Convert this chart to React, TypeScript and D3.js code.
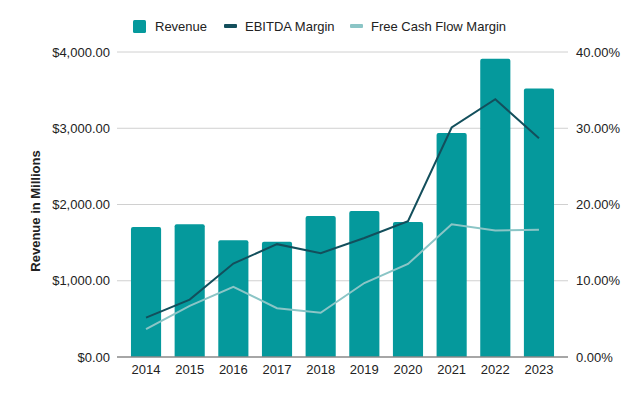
import {useEffect, useRef} from "react"

import * as d3 from "d3"

const years = ["2014", "2015", "2016", "2017", "2018", "2019", "2020", "2021", "2022", "2023"]
const revenue = [1705, 1740, 1530, 1513, 1849, 1915, 1770, 2938, 3913, 3520]
const ebitdaMargin = [0.0517, 0.0753, 0.1225, 0.148, 0.136, 0.156, 0.178, 0.301, 0.338, 0.287]
const fcfMargin = [0.0367, 0.067, 0.092, 0.064, 0.058, 0.097, 0.122, 0.174, 0.166, 0.167]
const revenueTicks = [0, 1000, 2000, 3000, 4000]
const marginTicks = [0, 0.1, 0.2, 0.3, 0.4]

const colors = {bar: "#05999c", ebitda: "#134f5c", fcf: "#8bc5c6"}
const font = "'Liberation Sans', Arial, sans-serif"

const width = 640
const height = 396
const plot = {left: 117, right: 568, top: 52, bottom: 357}

const App = (): JSX.Element => {
  const ref = useRef<SVGSVGElement>(null)

  useEffect(() => {
    const svg = d3.select(ref.current)
    svg.selectAll("*").remove()

    const x = d3
      .scaleBand()
      .domain(years)
      .range([plot.left, plot.right])
      .paddingInner(0.31)
      .paddingOuter(0.32)
    const yRev = d3.scaleLinear().domain([0, 4000]).range([plot.bottom, plot.top])
    const yPct = d3.scaleLinear().domain([0, 0.4]).range([plot.bottom, plot.top])

    // gridlines
    svg
      .append("g")
      .selectAll("line")
      .data(revenueTicks.slice(1))
      .join("line")
      .attr("x1", plot.left)
      .attr("x2", plot.right)
      .attr("y1", (d) => yRev(d))
      .attr("y2", (d) => yRev(d))
      .attr("stroke", "#d0d0d0")
      .attr("stroke-width", 1)

    // bars with slightly rounded tops
    const r = 2
    svg
      .append("g")
      .selectAll("path")
      .data(revenue)
      .join("path")
      .attr("fill", colors.bar)
      .attr("d", (d, i) => {
        const x0 = x(years[i])!
        const x1 = x0 + x.bandwidth()
        const y0 = yRev(d)
        const yb = yRev(0)
        return `M${x0},${yb}V${y0 + r}Q${x0},${y0} ${x0 + r},${y0}H${x1 - r}Q${x1},${y0} ${x1},${y0 + r}V${yb}Z`
      })

    // baseline
    svg
      .append("line")
      .attr("x1", plot.left)
      .attr("x2", plot.right)
      .attr("y1", yRev(0))
      .attr("y2", yRev(0))
      .attr("stroke", "#888")
      .attr("stroke-width", 1.3)

    const line = d3
      .line<number>()
      .x((_, i) => x(years[i])! + x.bandwidth() / 2)
      .y((d) => yPct(d))

    svg
      .append("path")
      .datum(fcfMargin)
      .attr("d", line)
      .attr("fill", "none")
      .attr("stroke", colors.fcf)
      .attr("stroke-width", 2)

    svg
      .append("path")
      .datum(ebitdaMargin)
      .attr("d", line)
      .attr("fill", "none")
      .attr("stroke", colors.ebitda)
      .attr("stroke-width", 2)

    // left axis labels
    svg
      .append("g")
      .selectAll("text")
      .data(revenueTicks)
      .join("text")
      .attr("x", 110)
      .attr("y", (d) => yRev(d))
      .attr("dy", "0.35em")
      .attr("text-anchor", "end")
      .attr("font-family", font)
      .attr("font-size", 13)
      .attr("fill", "#222")
      .text((d) => "$" + d3.format(",.2f")(d))

    // right axis labels
    svg
      .append("g")
      .selectAll("text")
      .data(marginTicks)
      .join("text")
      .attr("x", 576)
      .attr("y", (d) => yPct(d))
      .attr("dy", "0.35em")
      .attr("font-family", font)
      .attr("font-size", 13)
      .attr("fill", "#222")
      .text((d) => d3.format(".2%")(d))

    // x labels
    svg
      .append("g")
      .selectAll("text")
      .data(years)
      .join("text")
      .attr("x", (d) => x(d)! + x.bandwidth() / 2)
      .attr("y", 374)
      .attr("text-anchor", "middle")
      .attr("font-family", font)
      .attr("font-size", 13)
      .attr("fill", "#222")
      .text((d) => d)

    // y axis title
    svg
      .append("text")
      .attr("transform", "translate(40,211) rotate(-90)")
      .attr("text-anchor", "middle")
      .attr("font-family", font)
      .attr("font-size", 13)
      .attr("font-weight", "bold")
      .attr("fill", "#222")
      .text("Revenue in Millions")

    // legend
    const legend = svg.append("g").attr("font-family", font).attr("font-size", 13).attr("fill", "#222")
    legend.append("rect").attr("x", 133).attr("y", 20).attr("width", 13).attr("height", 13).attr("rx", 1.5).attr("fill", colors.bar)
    legend.append("text").attr("x", 155).attr("y", 31).text("Revenue")
    legend.append("rect").attr("x", 224).attr("y", 24).attr("width", 13).attr("height", 4).attr("rx", 1).attr("fill", colors.ebitda)
    legend.append("text").attr("x", 245).attr("y", 31).text("EBITDA Margin")
    legend.append("rect").attr("x", 350).attr("y", 24).attr("width", 13).attr("height", 4).attr("rx", 1).attr("fill", colors.fcf)
    legend.append("text").attr("x", 371).attr("y", 31).text("Free Cash Flow Margin")
  }, [])

  return (
    <svg
      ref={ref}
      width={width}
      height={height}
      style={{position: "absolute", left: 0, top: 0, background: "#fff"}}
    />
  )
}

export default App
